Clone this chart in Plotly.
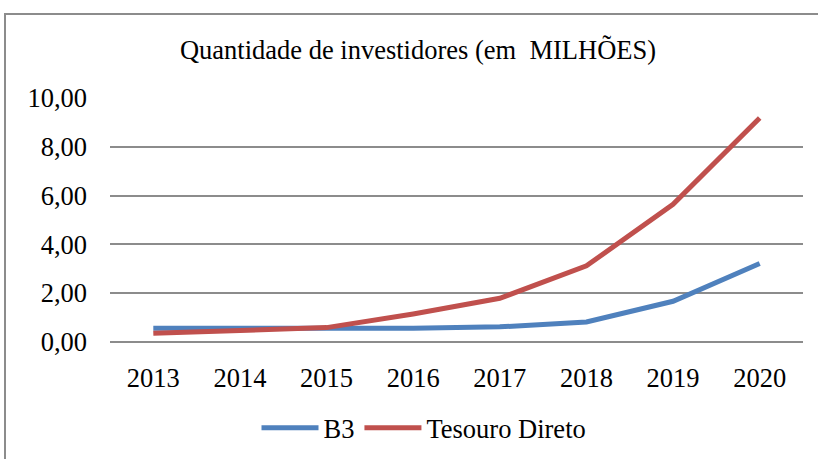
import plotly.graph_objects as go

years = ["2013", "2014", "2015", "2016", "2017", "2018", "2019", "2020"]
b3 = [0.56, 0.55, 0.56, 0.56, 0.62, 0.82, 1.67, 3.22]
tesouro = [0.36, 0.46, 0.59, 1.15, 1.79, 3.12, 5.64, 9.18]
y_ticks = [0, 2, 4, 6, 8, 10]

W, H = 818, 459
L, R, T, B = 110, 15, 98, 117
pw, ph = W - L - R, H - T - B

fig = go.Figure()
fig.add_trace(go.Scatter(x=years, y=b3, name="B3", mode="lines",
                         line=dict(color="#4F81BD", width=5)))
fig.add_trace(go.Scatter(x=years, y=tesouro, name="Tesouro Direto", mode="lines",
                         line=dict(color="#C0504D", width=5)))

def px_x(p):
    return (p - L) / pw

def px_y(p):
    return (H - B - p) / ph

fig.add_shape(type="rect", xref="paper", yref="paper",
              x0=px_x(5), x1=px_x(830), y0=px_y(470), y1=px_y(14),
              line=dict(color="#8c8c8c", width=2), fillcolor="rgba(0,0,0,0)", layer="below")

FONT = "Liberation Serif"
FS = 26.5
fig.update_layout(
    width=W, height=H,
    margin=dict(l=L, r=R, t=T, b=B, autoexpand=False),
    paper_bgcolor="white", plot_bgcolor="white",
    separators=",.",
    font=dict(family=FONT, color="#000000", size=FS),
    title=dict(text="Quantidade de investidores (em&nbsp; MILHÕES)", x=0.511, xanchor="center",
               y=1 - 50 / H, yanchor="middle", font=dict(family=FONT, size=26.5)),
    showlegend=True,
    legend=dict(orientation="h", x=px_x(424), xanchor="center", y=px_y(428), yanchor="middle",
                font=dict(family=FONT, size=FS), traceorder="normal", itemwidth=57),
    xaxis=dict(type="category", range=[-0.5, 7.5], showgrid=False, showline=False,
               automargin=False, ticks="", tickfont=dict(family=FONT, size=FS),
               ticklabelstandoff=17),
    yaxis=dict(range=[0, 10], tickvals=y_ticks, tickformat=".2f", showgrid=True,
               automargin=False, gridcolor="#8c8c8c", gridwidth=1.5, zeroline=True,
               zerolinecolor="#8c8c8c", zerolinewidth=1.5, showline=False, ticks="",
               tickfont=dict(family=FONT, size=FS), ticklabelstandoff=22),
)

fig.write_html("out.html")
